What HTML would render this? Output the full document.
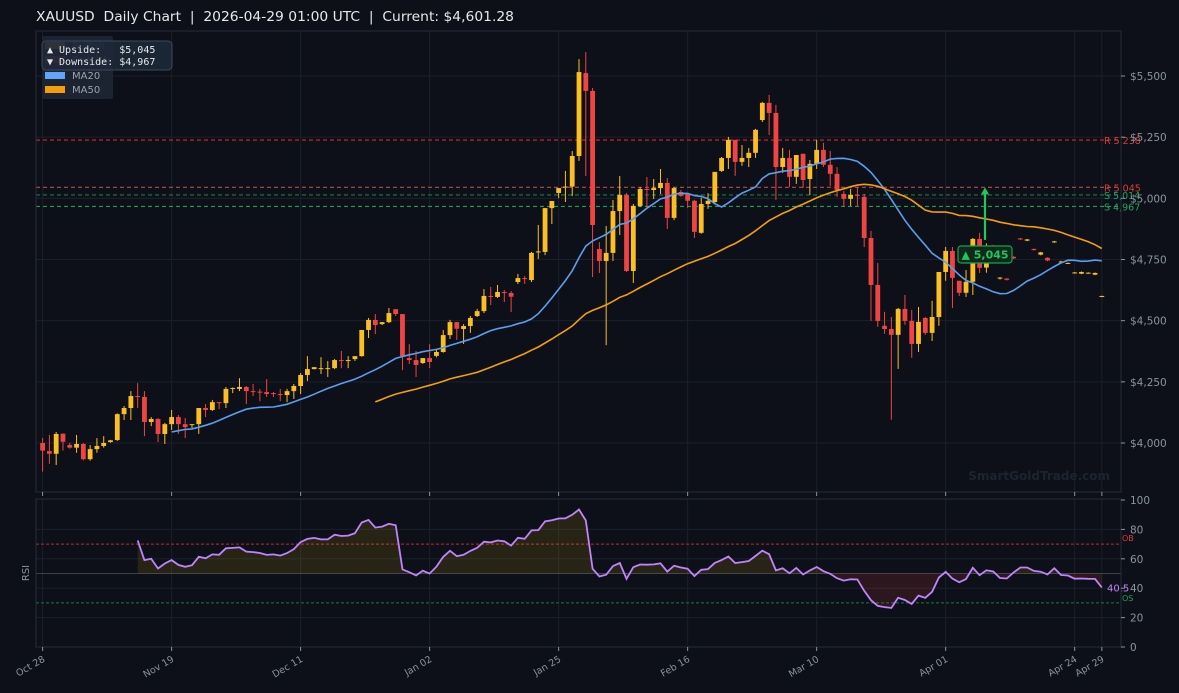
<!DOCTYPE html>
<html><head><meta charset="utf-8">
<style>
html,body{margin:0;padding:0;background:#0d1018;}
svg{display:block;font-family:"DejaVu Sans","Liberation Sans",sans-serif;}
</style></head>
<body>
<svg id="chart" width="1179" height="693" viewBox="0 0 1179 693">
<rect x="0" y="0" width="1179" height="693" fill="#0d1018"/>
<text x="36" y="21" font-size="13" fill="#e6e8eb" xml:space="preserve" textLength="478" lengthAdjust="spacingAndGlyphs">XAUUSD  Daily Chart  |  2026-04-29 01:00 UTC  |  Current: $4,601.28</text>
<g id="grid"></g>
<g id="levels"></g>
<g id="candles"></g>
<g id="mas"></g>
<g id="rsi"></g>
<g id="axes"></g>
<text x="1110" y="480" font-size="12" font-weight="bold" fill="#1c2430" text-anchor="end">SmartGoldTrade.com</text>
<g>
  <rect x="42" y="36" width="71" height="63" rx="2" fill="#1c2331"/>
  <rect x="45" y="42" width="20" height="7" fill="#fbbf24"/>
  <text x="72" y="49" font-size="10" fill="#9aa3ae">Bullish</text>
  <rect x="45" y="56" width="20" height="7" fill="#ef4444"/>
  <text x="72" y="63" font-size="10" fill="#9aa3ae">Bearish</text>
  <rect x="45" y="72" width="20" height="7" fill="#60a5fa"/>
  <text x="72" y="79" font-size="10" fill="#9aa3ae">MA20</text>
  <rect x="45" y="86" width="20" height="7" fill="#f59e0b"/>
  <text x="72" y="93" font-size="10" fill="#9aa3ae">MA50</text>
</g>
<g>
  <rect x="42" y="41" width="130" height="29" rx="4" fill="#1d2838" fill-opacity="0.93" stroke="#3a4a5e"/>
  <text x="47" y="53" font-size="10" fill="#e6e8eb" font-family="DejaVu Sans Mono, monospace" xml:space="preserve">▲ Upside:   $5,045</text>
  <text x="47" y="65" font-size="10" fill="#e6e8eb" font-family="DejaVu Sans Mono, monospace" xml:space="preserve">▼ Downside: $4,967</text>
</g>
<g id="annot"></g>
</svg>
<script>
const opens=[4000,3967,3956,4038,3992,3981,3996,3934,3975,3988,4004,4012,4118,4143,4192,4188,4086,4098,4037,4077,4106,4077,4075,4077,4143,4135,4167,4163,4221,4221,4229,4212,4210,4208,4204,4200,4196,4212,4233,4278,4302,4304,4304,4306,4339,4336,4343,4355,4462,4503,4486,4494,4547,4527,4347,4339,4327,4347,
4356,4372,4441,4494,4466,4478,4519,4539,4601,4597,4617,4613,4658,4674,4666,4780,4781,4960,5022,5044,5048,5173,5512,5439,4793,4744,4777,4948,5014,4703,4969,5038,5034,5042,5063,4920,
5026,5018,4990,4859,4977,4985,5112,5165,5239,5149,5165,5186,5320,5390,5349,5128,5165,5088,5182,5079,5141,5198,5137,5100,5018,4998,5014,5006,4838,4646,4479,4466,4442,4548,4499,4405,4511,4450,4515,4699,4785,4663,4614,4659,4834,
4717,4798,4672,4672,4761,4836,4827,4793,4770,4757,4820,4740,4735,4695,4692,4695,4688,4598];
const highs=[4020,4033,4045,4039,4000,4033,4000,3992,4020,4028,4013,4121,4151,4212,4245,4212,4106,4102,4082,4135,4114,4102,4077,4143,4159,4176,4167,4229,4227,4265,4233,4241,4221,4261,4208,4221,4221,4241,4286,4355,4310,4351,4335,4343,4376,4355,4355,4462,4511,4527,4494,4552,4547,4527,4404,4376,4347,4404,
4380,4462,4503,4494,4486,4519,4548,4629,4638,4646,4625,4621,4691,4682,4781,4891,4960,4989,5042,5112,5193,5569,5598,5451,4821,4887,4993,5091,5022,4977,5046,5087,5079,5120,5083,5046,
5034,5022,4994,5002,5021,5108,5169,5251,5239,5218,5206,5284,5394,5423,5382,5206,5198,5177,5182,5157,5239,5227,5194,5128,5030,5039,5047,5018,4867,4736,4536,4515,4552,4605,4544,4556,4515,4581,4699,4801,4801,4663,4707,4838,4859,
4816,4810,4678,4674,4763,4838,4834,4795,4781,4759,4826,4745,4738,4699,4701,4698,4697,4602];
const lows=[3883,3915,3910,3969,3977,3960,3929,3928,3960,3981,4001,4009,4094,4094,4143,4028,4069,4004,3996,4053,4037,4020,4061,4037,4106,4131,4139,4143,4204,4212,4159,4192,4171,4188,4188,4171,4167,4180,4200,4253,4301,4282,4270,4302,4306,4306,4335,4353,4429,4445,4482,4490,4519,4298,4323,4270,4323,4306,
4350,4369,4425,4421,4405,4450,4515,4531,4564,4593,4576,4535,4650,4650,4658,4752,4768,4895,5001,4985,5009,5153,5091,4678,4695,4400,4744,4850,4699,4654,4964,4964,4997,5018,4875,4911,
5006,4961,4838,4855,4957,4981,5108,5120,5092,5133,5128,5165,5312,5259,4994,5104,5047,5059,5043,5014,5120,5128,5051,5006,4965,4969,4969,4801,4499,4475,4446,4095,4303,4483,4348,4372,4442,4417,4479,4663,4552,4601,4597,4605,4695,
4696,4770,4668,4664,4752,4830,4825,4786,4767,4743,4818,4737,4732,4693,4690,4692,4686,4596];
const closes=[3969,3956,4037,4005,3981,3996,3934,3975,3988,4000,4011,4118,4143,4192,4189,4086,4098,4037,4077,4106,4077,4065,4077,4143,4135,4167,4165,4221,4225,4229,4212,4210,4207,4200,4203,4199,4212,4233,4278,4302,4310,4306,4306,4339,4336,4339,4355,4462,4503,4482,4494,4531,4527,4355,4339,4319,4347,4331,
4372,4441,4494,4467,4478,4511,4539,4601,4598,4617,4614,4598,4674,4670,4777,4783,4960,4989,5042,5048,5173,5516,5439,4891,4744,4777,4948,5014,4703,4969,5038,5035,5042,5063,4920,5042,
5010,4990,4863,4977,4990,5108,5165,5239,5149,5165,5186,5280,5390,5349,5128,5165,5088,5177,5075,5141,5198,5137,5100,5034,4998,5014,5010,4838,4646,4499,4466,4442,4548,4499,4405,4495,4450,4515,4699,4785,4675,4614,4659,4834,4716,
4798,4780,4676,4667,4755,4833,4832,4789,4779,4746,4824,4742,4736,4697,4699,4696,4695,4601];
const tickIdx=[0,19,38,57,76,95,114,133,152,156];
const tickLabels=["Oct 28","Nov 19","Dec 11","Jan 02","Jan 25","Feb 16","Mar 10","Apr 01","Apr 24","Apr 29"];
const priceTicks=[4000,4250,4500,4750,5000,5250,5500];
const rsiTicks=[0,20,40,60,80,100];
const levelValues=[5238,5045,5014,4967];
const levelKinds=["R","R","S","S"];
const targetValue=5045;

const NS="http://www.w3.org/2000/svg";
const X0=42.6, DX=6.79;
const PL=36, PR=1121, PT=31, PB=492, RT=499, RB=647;
function xs(i){return X0+i*DX;}
function ys(p){return 443-(p-4000)*0.24467;}
function yr(v){return 647-v*1.47;}
function mk(tag,attrs,parent){const e=document.createElementNS(NS,tag);for(const k in attrs)e.setAttribute(k,attrs[k]);parent.appendChild(e);return e;}
const grid=document.getElementById('grid'),axes=document.getElementById('axes');

let f=mk('rect',{x:PL,y:PT,width:PR-PL,height:PB-PT,fill:'none',stroke:'#262d38'},axes);


f=mk('rect',{x:PL,y:RT,width:PR-PL,height:RB-RT,fill:'none',stroke:'#262d38'},axes);



tickIdx.forEach((t,k)=>{
  const x=xs(t);
  let g=mk('line',{x1:x,x2:x,y1:PT,y2:PB,stroke:'#1a202a','stroke-width':1},grid);
  
  
  g=mk('line',{x1:x,x2:x,y1:RT,y2:RB,stroke:'#1a202a','stroke-width':1},grid);
  
  
  mk('line',{x1:x,x2:x,y1:PB,y2:PB+4,stroke:'#8b949e'},axes);
  mk('line',{x1:x,x2:x,y1:RB,y2:RB+4,stroke:'#8b949e'},axes);
  const tx=mk('text',{x:x+3,y:RB+14,'font-size':9.5,fill:'#8b949e','text-anchor':'end',transform:`rotate(-30 ${x+3} ${RB+14})`},axes);
  tx.textContent=tickLabels[k];
  
  
});
priceTicks.forEach(p=>{
  const y=ys(p);
  let g=mk('line',{x1:PL,x2:PR,y1:y,y2:y,stroke:'#1a202a'},grid);
  
  
  mk('line',{x1:PR,x2:PR+4,y1:y,y2:y,stroke:'#8b949e'},axes);
  const t=mk('text',{x:PR+9,y:y+4,'font-size':10.5,fill:'#8b949e'},axes);
  t.textContent='$'+p.toLocaleString('en-US');
  
  
});
rsiTicks.forEach(v=>{
  const y=yr(v);
  if(v>0&&v<100){let g=mk('line',{x1:PL,x2:PR,y1:y,y2:y,stroke:'#1a202a'},grid);
  
  }
  mk('line',{x1:PR,x2:PR+4,y1:y,y2:y,stroke:'#8b949e'},axes);
  const t=mk('text',{x:PR+9,y:y+4,'font-size':10.5,fill:'#8b949e'},axes);
  t.textContent=v;
  
  
});
let rl=mk('text',{x:29,y:573,'font-size':10,fill:'#8b949e','text-anchor':'middle',transform:'rotate(-90 29 573)'},axes);
rl.textContent='RSI';



const lv=document.getElementById('levels');
levelValues.forEach((v,k)=>{
  const y=ys(v), c=levelKinds[k]==='R'?(k===0?'#dc2626':'#b94a4a'):(k===2?'#15803d':'#16a34a');
  const l=mk('line',{x1:PL,x2:PR,y1:y,y2:y,stroke:c,'stroke-width':1.1,'stroke-dasharray':'4 3'},lv);
  
  
  const t=mk('text',{x:1104,y:y+4,'font-size':9.5,fill:levelKinds[k]==='R'?'#dc3c3c':'#22a55a'},lv);
  t.textContent=levelKinds[k]+' '+v.toLocaleString('en-US');
  
  
});

const cg=document.getElementById('candles');
for(let i=0;i<closes.length;i++){
  const up=closes[i]>=opens[i], col=up?'#fbbf24':'#ef4444', x=xs(i);
  const w=mk('line',{x1:x,x2:x,y1:ys(highs[i]),y2:ys(lows[i]),stroke:col,'stroke-width':1},cg);
  
  
  const top=ys(Math.max(opens[i],closes[i])), bot=ys(Math.min(opens[i],closes[i]));
  const b=mk('rect',{x:x-2.4,y:top,width:4.8,height:Math.max(1,bot-top),fill:col},cg);
  
  
}
function ma(n){const r=[];for(let i=n-1;i<closes.length;i++){let s=0;for(let j=i-n+1;j<=i;j++)s+=closes[j];r.push([i,s/n]);}return r;}
const mg=document.getElementById('mas');
[[20,'#5b9ef0','ma20-line'],[50,'#f59e0b','ma50-line']].forEach(([n,c,name])=>{
  const pts=ma(n).map(([i,v])=>xs(i).toFixed(1)+','+ys(v).toFixed(1)).join(' ');
  const p=mk('polyline',{points:pts,fill:'none',stroke:c,'stroke-width':1.6},mg);
  
  
});

const rg=document.getElementById('rsi');
const rsi=[];(function(){let g=0,l=0;for(let i=1;i<=14;i++){const d=closes[i]-closes[i-1];if(d>0)g+=d;else l-=d;}g/=14;l/=14;rsi.push([14,l===0?100:100-100/(1+g/l)]);
for(let i=15;i<closes.length;i++){const d=closes[i]-closes[i-1];g=(g*13+Math.max(d,0))/14;l=(l*13+Math.max(-d,0))/14;rsi.push([i,l===0?100:100-100/(1+g/l)]);}})();
let ob=mk('line',{x1:PL,x2:PR,y1:yr(70),y2:yr(70),stroke:'#b42f2f','stroke-dasharray':'3 2'},rg);


let os=mk('line',{x1:PL,x2:PR,y1:yr(30),y2:yr(30),stroke:'#1f7a3f','stroke-dasharray':'3 2'},rg);


let mid=mk('line',{x1:PL,x2:PR,y1:yr(50),y2:yr(50),stroke:'#3a414c'},rg);


const rpts=rsi.map(([i,v])=>xs(i).toFixed(1)+','+yr(v).toFixed(1));
const first=rsi[0][0], last=rsi[rsi.length-1][0];
let up=mk('clipPath',{id:'cUp'},rg);mk('rect',{x:0,y:0,width:1179,height:yr(50)},up);
let dn=mk('clipPath',{id:'cDn'},rg);mk('rect',{x:0,y:yr(50),width:1179,height:200},dn);
const area=`M${xs(first)},${yr(50)} L`+rpts.join(' L')+` L${xs(last)},${yr(50)} Z`;
let a1=mk('path',{d:area,fill:'#eab308','fill-opacity':0.12,'clip-path':'url(#cUp)'},rg);


let a2=mk('path',{d:area,fill:'#ef4444','fill-opacity':0.14,'clip-path':'url(#cDn)'},rg);


let rp=mk('polyline',{points:rpts.join(' '),fill:'none',stroke:'#c084fc','stroke-width':1.8},rg);


let rv=mk('text',{x:1107,y:yr(rsi[rsi.length-1][1])+4,'font-size':10,fill:'#c084fc'},rg);
rv.textContent=rsi[rsi.length-1][1].toFixed(1);


let obt=mk('text',{x:1122,y:yr(70)-3,'font-size':8,fill:'#dc3c3c'},rg);obt.textContent='OB';


let ost=mk('text',{x:1122,y:yr(30)-2,'font-size':8,fill:'#22a55a'},rg);ost.textContent='OS';



const an=document.getElementById('annot');
const ax=985, ay0=ys(4830), ay1=ys(targetValue);
let ar=mk('line',{x1:ax,x2:ax,y1:ay0,y2:ay1+6,stroke:'#22c55e','stroke-width':2.2},an);


let ah=mk('polygon',{points:`${ax-4},${ay1+7} ${ax+4},${ay1+7} ${ax},${ay1}`,fill:'#22c55e'},an);


let bx=mk('rect',{x:958,y:246,width:54,height:17,rx:3,fill:'#0f2a1a',stroke:'#16a34a','stroke-width':1.2},an);


let bt=mk('text',{x:985,y:258.5,'font-size':11,'font-weight':'bold',fill:'#22c55e','text-anchor':'middle'},an);
bt.textContent='▲ '+targetValue.toLocaleString('en-US');


</script>
</body></html>
